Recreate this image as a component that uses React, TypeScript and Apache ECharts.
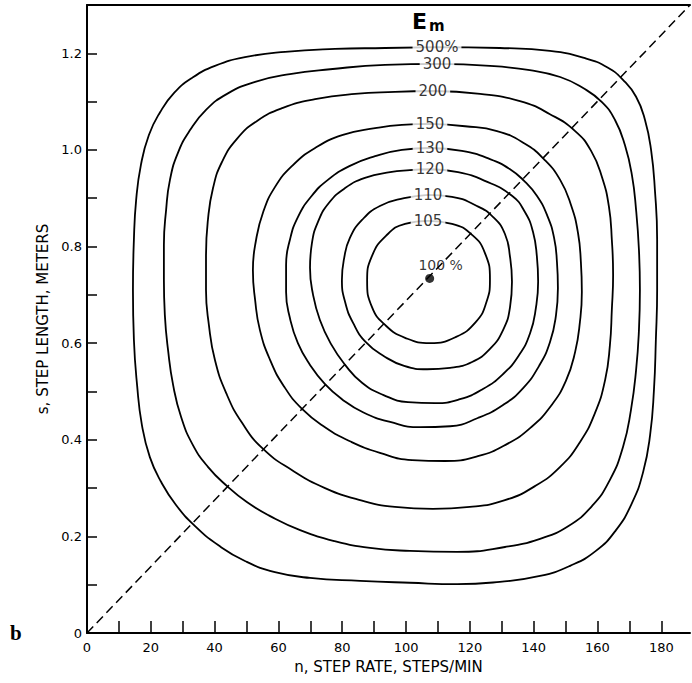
import React, { useEffect, useRef } from "react";
import * as echarts from "echarts";

// Iso-energy contours (E_m, % of minimum), step rate n (steps/min) vs step length s (m)
const levelLabels = ["500%", "300", "200", "150", "130", "120", "110", "105"];

const e500 = [[109.7,1.213],[129.4,1.211],[145.1,1.205],[156.1,1.190],[163.3,1.170],[168.0,1.145],[172.1,1.110],[174.9,1.062],[176.8,1.000],[178.0,0.917],[178.7,0.814],[178.7,0.710],[178.3,0.607],[177.7,0.503],[176.5,0.410],[174.3,0.333],[170.8,0.269],[165.8,0.213],[159.5,0.170],[151.4,0.139],[142.0,0.118],[129.4,0.106],[116.0,0.101],[101.2,0.104],[85.6,0.108],[69.9,0.114],[58.9,0.126],[49.5,0.149],[41.1,0.182],[33.9,0.221],[27.9,0.265],[23.2,0.313],[19.7,0.364],[17.2,0.431],[15.7,0.513],[14.7,0.607],[14.4,0.710],[14.7,0.814],[15.4,0.896],[16.9,0.969],[19.4,1.031],[22.9,1.078],[27.3,1.118],[32.9,1.149],[40.1,1.174],[49.5,1.192],[62.1,1.203],[77.7,1.209],[93.4,1.211]];
const e300 = [[109.7,1.178],[126.3,1.174],[138.8,1.165],[148.3,1.151],[155.5,1.128],[161.4,1.099],[165.5,1.062],[168.6,1.010],[170.8,0.948],[172.1,0.876],[173.0,0.793],[173.3,0.710],[173.0,0.627],[172.1,0.544],[170.5,0.462],[168.0,0.385],[163.9,0.317],[158.3,0.263],[150.8,0.221],[142.0,0.195],[131.0,0.178],[116.0,0.168],[101.2,0.170],[88.7,0.176],[77.7,0.190],[66.8,0.213],[57.4,0.242],[50.1,0.271],[43.9,0.304],[37.9,0.344],[33.2,0.389],[29.5,0.447],[27.0,0.513],[25.4,0.586],[24.4,0.658],[24.1,0.731],[24.1,0.803],[24.8,0.876],[26.0,0.938],[28.5,0.994],[32.3,1.041],[37.3,1.083],[43.9,1.116],[52.7,1.141],[63.6,1.157],[76.2,1.167],[93.4,1.176]];
const e200 = [[108.4,1.122],[123.2,1.116],[135.7,1.101],[145.1,1.074],[153.0,1.039],[158.0,0.998],[161.4,0.944],[163.6,0.882],[164.5,0.814],[164.9,0.741],[164.5,0.669],[163.9,0.596],[162.4,0.524],[159.2,0.455],[154.5,0.395],[148.3,0.344],[140.4,0.304],[131.0,0.275],[120.0,0.261],[108.4,0.257],[96.5,0.261],[85.6,0.275],[74.6,0.300],[64.3,0.337],[55.2,0.381],[48.6,0.435],[43.6,0.497],[40.1,0.565],[38.2,0.638],[37.3,0.710],[37.3,0.782],[37.9,0.855],[39.5,0.921],[42.3,0.975],[47.0,1.023],[53.3,1.060],[61.4,1.087],[71.5,1.105],[84.0,1.116],[96.5,1.120]];
const e150 = [[107.5,1.054],[118.5,1.049],[128.5,1.039],[137.0,1.014],[143.2,0.981],[148.3,0.938],[151.7,0.886],[153.9,0.828],[154.8,0.768],[155.1,0.706],[154.5,0.644],[153.0,0.582],[150.1,0.522],[145.4,0.470],[139.2,0.426],[131.6,0.391],[122.5,0.366],[112.2,0.356],[101.9,0.358],[91.8,0.373],[82.4,0.397],[74.6,0.426],[67.4,0.464],[61.7,0.511],[57.4,0.565],[54.2,0.627],[52.7,0.689],[52.0,0.751],[53.0,0.814],[55.2,0.871],[58.9,0.923],[64.3,0.967],[71.5,1.004],[80.2,1.031],[90.3,1.045],[98.7,1.052]];
const e130 = [[107.5,1.004],[117.5,0.998],[126.3,0.981],[132.6,0.960],[137.0,0.936],[141.0,0.905],[144.2,0.865],[146.4,0.818],[147.3,0.768],[147.6,0.714],[147.0,0.658],[145.1,0.602],[141.7,0.553],[136.7,0.507],[130.4,0.472],[122.5,0.445],[113.8,0.428],[104.4,0.426],[95.0,0.437],[86.5,0.457],[79.9,0.484],[74.6,0.515],[69.9,0.555],[66.1,0.600],[63.6,0.652],[62.4,0.706],[62.4,0.762],[63.6,0.814],[66.1,0.861],[70.2,0.903],[75.5,0.938],[82.4,0.967],[90.3,0.987],[98.7,1.000]];
const e120 = [[107.5,0.960],[116.3,0.954],[124.7,0.936],[133.2,0.905],[137.3,0.871],[139.8,0.830],[141.0,0.780],[141.4,0.727],[140.7,0.673],[138.9,0.621],[135.4,0.575],[130.4,0.536],[124.1,0.505],[116.9,0.484],[109.1,0.476],[100.6,0.478],[92.8,0.493],[86.2,0.518],[80.9,0.555],[76.5,0.598],[73.0,0.648],[70.8,0.702],[69.9,0.756],[70.5,0.807],[72.4,0.851],[75.8,0.890],[80.9,0.921],[87.1,0.942],[95.0,0.954],[101.2,0.958]];
const e110 = [[106.9,0.907],[114.4,0.903],[121.6,0.886],[127.3,0.861],[131.0,0.826],[132.6,0.778],[133.2,0.727],[132.6,0.675],[130.4,0.627],[126.3,0.588],[120.7,0.561],[113.8,0.549],[106.6,0.546],[99.4,0.553],[93.1,0.573],[87.4,0.602],[83.4,0.642],[80.9,0.685],[79.9,0.731],[80.6,0.776],[82.4,0.818],[86.2,0.855],[91.8,0.884],[99.4,0.900]];
const e105 = [[106.9,0.853],[114.4,0.847],[120.7,0.824],[124.7,0.787],[126.3,0.731],[125.1,0.683],[121.9,0.644],[115.7,0.613],[107.5,0.600],[99.7,0.611],[93.7,0.636],[89.3,0.675],[87.8,0.729],[89.3,0.780],[93.7,0.822],[99.7,0.847]];

const contours = [e500, e300, e200, e150, e130, e120, e110, e105];

const optimum = [107.4, 0.734];
const diagonal = [[0, 0], [189, 1.3]];

const xTickValues = [10, 20, 30, 40, 50, 60, 70, 80, 90, 100, 110, 120, 130, 140, 150, 160, 170, 180];
const xLabelValues = [0, 20, 40, 60, 80, 100, 120, 140, 160, 180];
const yTickValues = [0.1, 0.2, 0.3, 0.4, 0.5, 0.6, 0.7, 0.8, 0.9, 1.0, 1.1, 1.2];
const yLabelValues = [0, 0.2, 0.4, 0.6, 0.8, 1.0, 1.2];

const FONT = "DejaVu Sans";

export default function App() {
  const ref = useRef<HTMLDivElement>(null);
  useEffect(() => {
    if (!ref.current) return;
    const chart = echarts.init(ref.current, null, { renderer: "svg" });
    const contourSeries = contours.map((c, i) => ({
      type: "line",
      name: levelLabels[i],
      data: [...c, c[0]],
      smooth: 0.5,
      symbol: "none",
      silent: true,
      lineStyle: { color: "#000", width: 1.8 },
      z: 2,
    }));
    chart.setOption({
      animation: false,
      backgroundColor: "#fff",
      grid: { left: 87, right: 2, top: 5, bottom: 50 },
      xAxis: [
        {
          type: "value",
          min: 0,
          max: 189,
          position: "bottom",
          axisLine: { show: true, onZero: false, lineStyle: { color: "#000", width: 2 } },
          axisTick: { show: true, inside: true, length: 12, customValues: xTickValues, lineStyle: { color: "#000", width: 1.5 } },
          axisLabel: { customValues: xLabelValues, color: "#000", fontSize: 13, fontFamily: FONT, margin: 8 },
          splitLine: { show: false },
          name: "n, STEP RATE, STEPS/MIN",
          nameLocation: "middle",
          nameGap: 26,
          nameTextStyle: { color: "#000", fontSize: 15, fontFamily: FONT },
        },
        {
          type: "value",
          min: 0,
          max: 189,
          position: "top",
          axisLine: { show: true, onZero: false, lineStyle: { color: "#000", width: 2 } },
          axisTick: { show: false },
          axisLabel: { show: false },
          splitLine: { show: false },
        },
      ],
      yAxis: {
        type: "value",
        min: 0,
        max: 1.3,
        axisLine: { show: true, onZero: false, lineStyle: { color: "#000", width: 2 } },
        axisTick: { show: true, inside: true, length: 10, customValues: yTickValues, lineStyle: { color: "#000", width: 1.5 } },
        axisLabel: {
          customValues: yLabelValues,
          color: "#000",
          fontSize: 13,
          fontFamily: FONT,
          margin: 5,
          formatter: (v: number) => (v === 0 ? "0" : v.toFixed(1)),
        },
        splitLine: { show: false },
        name: "s, STEP LENGTH, METERS",
        nameLocation: "middle",
        nameGap: 36,
        nameRotate: 90,
        nameTextStyle: { color: "#000", fontSize: 15, fontFamily: FONT },
      },
      series: [
        ...contourSeries,
        {
          type: "line",
          data: diagonal,
          symbol: "none",
          silent: true,
          lineStyle: { color: "#000", width: 1.5, type: [9, 5] },
          z: 3,
        },
        {
          type: "scatter",
          data: [optimum],
          symbolSize: 9,
          itemStyle: { color: "#000" },
          label: {
            show: true,
            formatter: "100 %",
            position: "top",
            distance: 2,
            offset: [11, 0],
            color: "#000",
            fontSize: 14,
            fontFamily: FONT,
          },
          z: 6,
        },
        {
          type: "scatter",
          data: contours.map((c, i) => ({ value: c[0], name: levelLabels[i] })),
          symbolSize: 0,
          silent: true,
          label: {
            show: true,
            position: "inside",
            formatter: "{b}",
            color: "#000",
            fontSize: 15,
            fontFamily: FONT,
            backgroundColor: "#fff",
            padding: [0, 3],
          },
          z: 5,
        },
      ],
      graphic: [
        {
          type: "text",
          left: 412,
          top: 10,
          style: { text: "E", fontSize: 22, fontWeight: "bold", fontFamily: FONT, fill: "#000" },
        },
        {
          type: "text",
          left: 429,
          top: 18,
          style: { text: "m", fontSize: 15, fontWeight: "bold", fontFamily: FONT, fill: "#000" },
        },
        {
          type: "text",
          left: 10,
          top: 622,
          style: { text: "b", fontSize: 21, fontWeight: "bold", fontFamily: "Liberation Serif", fill: "#000" },
        },
      ],
    });
    return () => chart.dispose();
  }, []);
  return <div ref={ref} style={{ position: "absolute", left: 0, top: 0, width: 692, height: 683 }} />;
}
